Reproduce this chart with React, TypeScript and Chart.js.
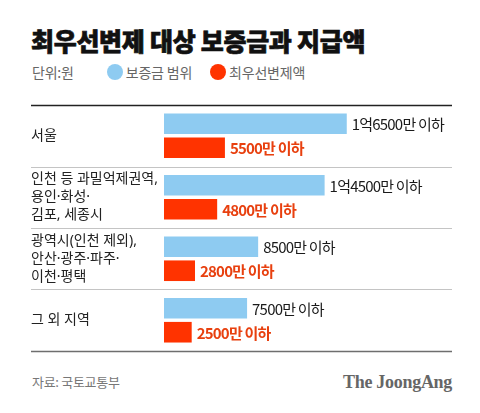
import React, { useEffect, useRef } from "react";
import { Chart, registerables } from "chart.js";

Chart.register(...registerables);

const TITLE = "최우선변제 대상 보증금과 지급액";
const UNIT = "단위:원";
const SOURCE = "자료: 국토교통부";
const BRAND = "The JoongAng";

const categories: (string | string[])[] = [
  "서울",
  ["인천 등 과밀억제권역,", "용인·화성·", "김포, 세종시"],
  ["광역시(인천 제외),", "안산·광주·파주·", "이천·평택"],
  "그 외 지역",
];

// values in 만원
const depositRange = [16500, 14500, 8500, 7500];
const priorityPay = [5500, 4800, 2800, 2500];

const seriesNames = ["보증금 범위", "최우선변제액"];
const seriesColors = ["#8ecbf1", "#ff3300"];
const labelColors = ["#1a1a1a", "#e8400f"];
const labelWeights = ["400", "700"];

const X_MAX = 26000;

const KFONT = '"Noto Sans CJK KR", "Noto Sans", sans-serif';
const TICKFONT = '"Noto Sans", "Noto Sans CJK KR", sans-serif';

function fmt(v: number): string {
  if (v >= 10000) {
    const eok = Math.floor(v / 10000);
    const man = v % 10000;
    return `${eok}억${man > 0 ? man + "만" : ""} 이하`;
  }
  return `${v}만 이하`;
}

const rulesPlugin = {
  id: "rules",
  beforeDatasetsDraw(chart: any) {
    const ctx = chart.ctx;
    const ys = chart.scales.y;
    const n = chart.data.labels.length;
    const band = (ys.bottom - ys.top) / n;
    const left = chart.options.layout.padding.left;
    const right = chart.chartArea.right;
    ctx.save();
    for (let k = 0; k <= n; k++) {
      const yy = ys.getPixelForValue(0) - band / 2 + k * band;
      if (k === 0) {
        ctx.strokeStyle = "#222222";
        ctx.lineWidth = 1.5;
      } else if (k === n) {
        ctx.strokeStyle = "#6e6e6e";
        ctx.lineWidth = 1.5;
      } else {
        ctx.strokeStyle = "#c4c4c4";
        ctx.lineWidth = 1;
      }
      ctx.beginPath();
      ctx.moveTo(left, Math.round(yy) + 0.5);
      ctx.lineTo(right, Math.round(yy) + 0.5);
      ctx.stroke();
    }
    ctx.restore();
  },
};

const valueLabelPlugin = {
  id: "valueLabels",
  afterDatasetsDraw(chart: any) {
    const ctx = chart.ctx;
    ctx.save();
    chart.data.datasets.forEach((ds: any, i: number) => {
      const meta = chart.getDatasetMeta(i);
      ctx.font = `${labelWeights[i]} 15px ${KFONT}`;
      (ctx as any).letterSpacing = "-0.8px";
      ctx.fillStyle = labelColors[i];
      ctx.textAlign = "left";
      ctx.textBaseline = "middle";
      meta.data.forEach((bar: any, j: number) => {
        ctx.fillText(fmt(ds.data[j]), bar.x + 5, bar.y + 1);
      });
    });
    ctx.restore();
  },
};

function BarChart() {
  const ref = useRef<HTMLCanvasElement | null>(null);
  useEffect(() => {
    if (!ref.current) return;
    const chart = new Chart(ref.current, {
      type: "bar",
      data: {
        labels: categories as any,
        datasets: [
          {
            label: seriesNames[0],
            data: depositRange,
            backgroundColor: seriesColors[0],
            categoryPercentage: 0.78,
            barPercentage: 0.86,
          },
          {
            label: seriesNames[1],
            data: priorityPay,
            backgroundColor: seriesColors[1],
            categoryPercentage: 0.78,
            barPercentage: 0.86,
          },
        ],
      },
      options: {
        indexAxis: "y",
        animation: false,
        responsive: false,
        maintainAspectRatio: false,
        layout: { padding: { left: 31, right: 28, top: 8, bottom: 5 } },
        plugins: {
          legend: { display: false },
          title: { display: false },
          tooltip: { enabled: false },
        },
        scales: {
          x: { display: false, min: 0, max: X_MAX },
          y: {
            grid: { display: false },
            border: { display: false },
            ticks: {
              crossAlign: "far",
              padding: 0,
              color: "#222222",
              font: { family: TICKFONT, size: 14, lineHeight: 1.29 },
            },
            afterFit(scale: any) {
              scale.width = 133;
            },
          },
        },
      } as any,
      plugins: [rulesPlugin, valueLabelPlugin],
    });
    return () => chart.destroy();
  }, []);
  return (
    <canvas
      ref={ref}
      width={480}
      height={264}
      style={{ position: "absolute", left: 0, top: 96, width: 480, height: 264 }}
    />
  );
}

export default function App() {
  return (
    <div
      style={{
        position: "absolute",
        left: 0,
        top: 0,
        width: 480,
        height: 413,
        background: "#ffffff",
        overflow: "hidden",
        fontFamily: KFONT,
      }}
    >
      <div
        style={{
          position: "absolute",
          left: 31,
          top: 25,
          fontSize: 25,
          lineHeight: "30px",
          fontWeight: 900,
          letterSpacing: -0.3,
          color: "#111111",
          whiteSpace: "nowrap",
          WebkitTextStroke: "0.7px #111111",
        }}
      >
        {TITLE}
      </div>
      <div
        style={{
          position: "absolute",
          left: 32,
          top: 63,
          height: 18,
          display: "flex",
          alignItems: "center",
          fontSize: 14,
          lineHeight: "18px",
          color: "#666666",
          letterSpacing: -0.2,
          whiteSpace: "nowrap",
        }}
      >
        <span style={{ marginRight: 33 }}>{UNIT}</span>
        {seriesNames.map((name, i) => (
          <span
            key={name}
            style={{ display: "flex", alignItems: "center", marginRight: 18 }}
          >
            <span
              style={{
                display: "inline-block",
                width: 16,
                height: 16,
                borderRadius: "50%",
                background: seriesColors[i],
                marginRight: 3,
              }}
            />
            {name}
          </span>
        ))}
      </div>
      <BarChart />
      <div
        style={{
          position: "absolute",
          left: 32,
          top: 373,
          fontSize: 13,
          lineHeight: "18px",
          color: "#777777",
          letterSpacing: -0.3,
          whiteSpace: "nowrap",
        }}
      >
        {SOURCE}
      </div>
      <div
        style={{
          position: "absolute",
          right: 28,
          top: 371,
          fontSize: 18,
          lineHeight: "22px",
          fontWeight: 700,
          fontFamily: '"Liberation Serif", "DejaVu Serif", serif',
          color: "#666666",
          letterSpacing: -0.3,
          whiteSpace: "nowrap",
        }}
      >
        {BRAND}
      </div>
    </div>
  );
}
